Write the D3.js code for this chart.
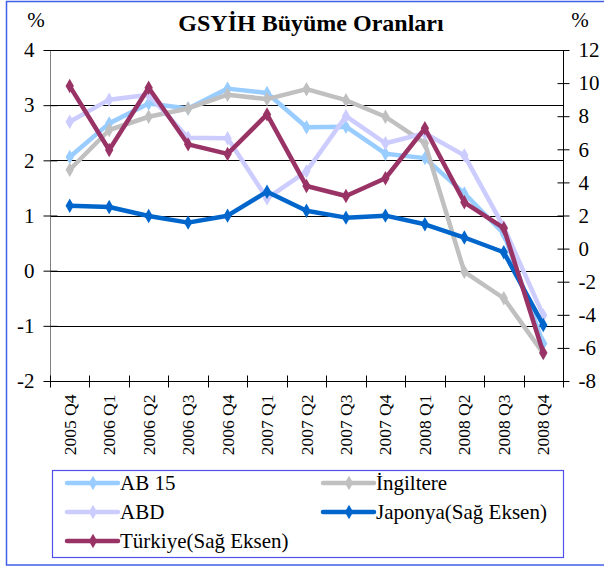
<!DOCTYPE html>
<html><head><meta charset="utf-8">
<script src="https://cdn.jsdelivr.net/npm/d3@7/dist/d3.min.js"></script>
<style>html,body{margin:0;padding:0;background:#fff;}svg{display:block;}</style>
</head><body>
<script>
const categories = ["2005 Q4","2006 Q1","2006 Q2","2006 Q3","2006 Q4","2007 Q1","2007 Q2","2007 Q3","2007 Q4","2008 Q1","2008 Q2","2008 Q3","2008 Q4"];
const ab15     = [2.06, 2.67, 3.03, 2.94, 3.30, 3.22, 2.60, 2.61, 2.12, 2.04, 1.40, 0.67, -1.32];
const ingiltere= [1.83, 2.55, 2.79, 2.94, 3.19, 3.11, 3.29, 3.09, 2.79, 2.31, -0.02, -0.50, -1.50];
const abd      = [2.70, 3.10, 3.19, 2.41, 2.40, 1.31, 1.80, 2.80, 2.31, 2.49, 2.09, 0.79, -0.81];
const japonya  = [2.59, 2.51, 1.97, 1.57, 1.99, 3.44, 2.29, 1.87, 1.99, 1.47, 0.67, -0.22, -4.62];
const turkiye  = [9.82, 5.96, 9.72, 6.30, 5.72, 8.11, 3.78, 3.18, 4.25, 7.27, 2.80, 1.23, -6.29];
const leftTicks = [4, 3, 2, 1, 0, -1, -2];
const rightTicks = [12, 10, 8, 6, 4, 2, 0, -2, -4, -6, -8];
const title = "GSYİH Büyüme Oranları";

const series = [
  {name:"AB 15", values: ab15, color:"#99CCFF", axis:"L"},
  {name:"İngiltere", values: ingiltere, color:"#C0C0C0", axis:"L"},
  {name:"ABD", values: abd, color:"#CCCCFF", axis:"L"},
  {name:"Japonya(Sağ Eksen)", values: japonya, color:"#0066CC", axis:"R"},
  {name:"Türkiye(Sağ Eksen)", values: turkiye, color:"#993366", axis:"R"}
];

const W = 604, H = 567;
const X0 = 50, X1 = 563, Y0 = 50, Y1 = 381;
const font = "'Liberation Serif','Times New Roman',serif";
const fmt = d => String(d);

const svg = d3.select("body").append("svg").attr("width", W).attr("height", H);

// outer border
svg.append("rect").attr("x", 6.5).attr("y", 1.5).attr("width", 620).attr("height", 563.5)
  .attr("fill", "none").attr("stroke", "#3F5FE8").attr("stroke-width", 1.5);

const x = d3.scaleBand().domain(categories).range([X0, X1]);
const yL = d3.scaleLinear().domain([-2, 4]).range([Y1, Y0]);
const yR = d3.scaleLinear().domain([-8, 12]).range([Y1, Y0]);

// gridlines
svg.append("g").selectAll("line").data(leftTicks.filter(d => d > -2)).join("line")
  .attr("x1", X0).attr("x2", X1)
  .attr("y1", d => Math.round(yL(d)) + 0.5).attr("y2", d => Math.round(yL(d)) + 0.5)
  .attr("stroke", "#000").attr("stroke-width", 1);

// left axis
const gL = svg.append("g").attr("transform", `translate(${X0 + 0.5},0)`)
  .call(d3.axisLeft(yL).tickValues(leftTicks).tickFormat(fmt).tickSize(7).tickPadding(9));
gL.selectAll(".tick line").attr("x2", 7).attr("x1", -7).attr("stroke", "#000");
gL.select(".domain").attr("stroke", "#808080").attr("d", `M0,${Y0}V${Y1}`);
gL.selectAll("text").attr("font-family", font).attr("font-size", 21).attr("fill", "#000")
  .attr("x", -16);

// right axis
const gR = svg.append("g").attr("transform", `translate(${X1 + 0.5},0)`)
  .call(d3.axisRight(yR).tickValues(rightTicks).tickFormat(fmt).tickSize(6));
gR.selectAll(".tick line").attr("x1", -6).attr("x2", 6).attr("stroke", "#000");
gR.select(".domain").attr("stroke", "#000").attr("d", `M0,${Y0}V${Y1}`);
gR.selectAll("text").attr("font-family", font).attr("font-size", 21).attr("fill", "#000")
  .attr("x", 15);

// x axis
const gX = svg.append("g").attr("transform", `translate(0,${Y1 + 0.5})`);
gX.append("line").attr("x1", X0).attr("x2", X1).attr("stroke", "#000");
const edges = categories.map(c => x(c)).concat([X1]);
gX.selectAll("line.tk").data(edges).join("line").attr("class", "tk")
  .attr("x1", d => Math.round(d) + 0.5).attr("x2", d => Math.round(d) + 0.5)
  .attr("y1", -6).attr("y2", 6).attr("stroke", "#000");
gX.selectAll("text").data(categories).join("text")
  .attr("transform", d => `translate(${x(d) + x.bandwidth() / 2 + 6},13) rotate(-90)`)
  .attr("text-anchor", "end")
  .attr("font-family", font).attr("font-size", 17.5).attr("fill", "#000")
  .text(d => d);

// series
const diamond = d3.symbol().type(d3.symbolDiamond).size(60);
series.forEach(s => {
  const ys = s.axis === "L" ? yL : yR;
  const line = d3.line().x((d, i) => x(categories[i]) + x.bandwidth() / 2).y(d => ys(d));
  const g = svg.append("g");
  g.append("path").datum(s.values).attr("d", line)
    .attr("fill", "none").attr("stroke", s.color).attr("stroke-width", 4.5)
    .attr("stroke-linejoin", "round");
  g.selectAll("path.m").data(s.values).join("path").attr("class", "m")
    .attr("d", diamond)
    .attr("transform", (d, i) => `translate(${x(categories[i]) + x.bandwidth() / 2},${ys(d)})`)
    .attr("fill", s.color);
});

// title and % labels
svg.append("text").attr("x", 311).attr("y", 31).attr("text-anchor", "middle")
  .attr("font-family", font).attr("font-size", 24).attr("font-weight", "bold").text(title);
svg.append("text").attr("x", 36).attr("y", 27).attr("text-anchor", "middle")
  .attr("font-family", font).attr("font-size", 21).text("%");
svg.append("text").attr("x", 580).attr("y", 27).attr("text-anchor", "middle")
  .attr("font-family", font).attr("font-size", 21).text("%");

// legend
const lg = svg.append("g");
lg.append("rect").attr("x", 52.5).attr("y", 470.5).attr("width", 511).attr("height", 87)
  .attr("fill", "#fff").attr("stroke", "#5050F0").attr("stroke-width", 1.2);
const legPos = [
  {s: series[0], x: 67, y: 483},
  {s: series[1], x: 323, y: 483},
  {s: series[2], x: 67, y: 512},
  {s: series[3], x: 323, y: 512},
  {s: series[4], x: 67, y: 541}
];
legPos.forEach(p => {
  lg.append("line").attr("x1", p.x).attr("x2", p.x + 51).attr("y1", p.y).attr("y2", p.y)
    .attr("stroke", p.s.color).attr("stroke-width", 4.5).attr("stroke-linecap", "round");
  lg.append("path").attr("d", diamond).attr("transform", `translate(${p.x + 26},${p.y})`).attr("fill", p.s.color);
  lg.append("text").attr("x", p.x + 53).attr("y", p.y + 7)
    .attr("font-family", font).attr("font-size", 21).attr("fill", "#000").text(p.s.name);
});
</script>
</body></html>
